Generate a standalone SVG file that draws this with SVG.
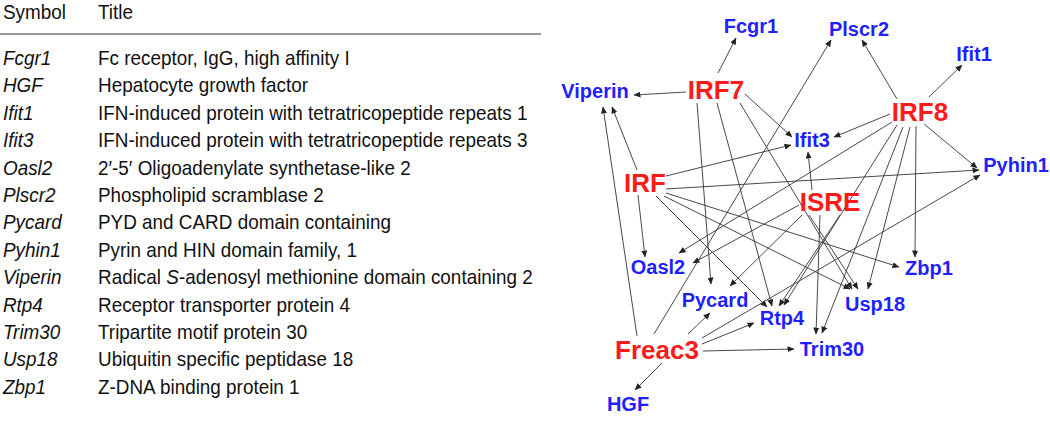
<svg xmlns="http://www.w3.org/2000/svg" width="1050" height="432" viewBox="0 0 1050 432">
<defs>
<marker id="ah" markerWidth="7" markerHeight="6" refX="6.5" refY="3" orient="auto" markerUnits="userSpaceOnUse">
<path d="M0,0 L7,3 L0,6 Z" fill="#222"/>
</marker>
<style>
.tb{font-family:"Liberation Sans",Arial,sans-serif;font-size:21px;fill:#111}
.sy{font-style:italic}
.b{font-family:"Liberation Sans",Arial,sans-serif;font-weight:bold;font-size:20px;fill:#1f1fff;text-anchor:middle}
.r{font-family:"Liberation Sans",Arial,sans-serif;font-weight:bold;font-size:26px;fill:#ff1a1a;text-anchor:middle}
.e{stroke:#333;stroke-width:0.9;fill:none;marker-end:url(#ah)}
</style>
</defs>
<rect width="1050" height="432" fill="#fff"/>
<g id="table">
<line x1="0" y1="34" x2="541" y2="34" stroke="#333" stroke-width="1.2"/>
<g transform="scale(0.9,1)">
<text class="tb" x="3.3" y="19">Symbol</text>
<text class="tb" x="108.9" y="19">Title</text>
<text class="tb sy" x="3.3" y="65">Fcgr1</text><text class="tb" x="108.9" y="65">Fc receptor, IgG, high affinity I</text>
<text class="tb sy" x="3.3" y="92.4">HGF</text><text class="tb" x="108.9" y="92.4">Hepatocyte growth factor</text>
<text class="tb sy" x="3.3" y="119.8">Ifit1</text><text class="tb" x="108.9" y="119.8">IFN-induced protein with tetratricopeptide repeats 1</text>
<text class="tb sy" x="3.3" y="147.2">Ifit3</text><text class="tb" x="108.9" y="147.2">IFN-induced protein with tetratricopeptide repeats 3</text>
<text class="tb sy" x="3.3" y="174.6">Oasl2</text><text class="tb" x="108.9" y="174.6">2′-5′ Oligoadenylate synthetase-like 2</text>
<text class="tb sy" x="3.3" y="202">Plscr2</text><text class="tb" x="108.9" y="202">Phospholipid scramblase 2</text>
<text class="tb sy" x="3.3" y="229.4">Pycard</text><text class="tb" x="108.9" y="229.4">PYD and CARD domain containing</text>
<text class="tb sy" x="3.3" y="256.8">Pyhin1</text><text class="tb" x="108.9" y="256.8">Pyrin and HIN domain family, 1</text>
<text class="tb sy" x="3.3" y="284.2">Viperin</text><text class="tb" x="108.9" y="284.2">Radical <tspan class="sy">S</tspan>-adenosyl methionine domain containing 2</text>
<text class="tb sy" x="3.3" y="311.6">Rtp4</text><text class="tb" x="108.9" y="311.6">Receptor transporter protein 4</text>
<text class="tb sy" x="3.3" y="339">Trim30</text><text class="tb" x="108.9" y="339">Tripartite motif protein 30</text>
<text class="tb sy" x="3.3" y="366.4">Usp18</text><text class="tb" x="108.9" y="366.4">Ubiquitin specific peptidase 18</text>
<text class="tb sy" x="3.3" y="393.8">Zbp1</text><text class="tb" x="108.9" y="393.8">Z-DNA binding protein 1</text>
</g>
</g>
<g id="connectors">
<path class="e" d="M686,92 L634,95"/>
<path class="e" d="M718,73 L736,38"/>
<path class="e" d="M745,94 L792,137"/>
<path class="e" d="M697,103 L711,284"/>
<path class="e" d="M717,103 L772,306"/>
<path class="e" d="M740,103 L852,289"/>
<path class="e" d="M897,99 L862,40"/>
<path class="e" d="M929,97 L962,65"/>
<path class="e" d="M890,114 L834,137"/>
<path class="e" d="M924,124 L977,168"/>
<path class="e" d="M916,126 L915,257"/>
<path class="e" d="M910,127 L868,289"/>
<path class="e" d="M903,127 L822,333"/>
<path class="e" d="M897,125 L784,305"/>
<path class="e" d="M892,122 L679,253"/>
<path class="e" d="M637,170 L612,107"/>
<path class="e" d="M666,176 L791,145"/>
<path class="e" d="M666,189 L979,170"/>
<path class="e" d="M666,193 L899,267"/>
<path class="e" d="M638,195 L645,257"/>
<path class="e" d="M656,196 L767,307"/>
<path class="e" d="M664,196 L850,289"/>
<path class="e" d="M812,190 L808,152"/>
<path class="e" d="M799,205 L693,263"/>
<path class="e" d="M802,215 L730,286"/>
<path class="e" d="M809,215 L858,289"/>
<path class="e" d="M820,215 L816,334"/>
<path class="e" d="M840,215 L779,306"/>
<path class="e" d="M637,336 L603,107"/>
<path class="e" d="M654,334 L831,40"/>
<path class="e" d="M688,334 L710,313"/>
<path class="e" d="M702,344 L754,323"/>
<path class="e" d="M703,351 L794,349"/>
<path class="e" d="M662,363 L635,390"/>
<path class="e" d="M702,338 L980,175"/>
</g>
<g id="n-Fcgr1"><text class="b" x="751" y="33">Fcgr1</text></g>
<g id="n-Plscr2"><text class="b" x="859" y="36">Plscr2</text></g>
<g id="n-Ifit1"><text class="b" x="974" y="61">Ifit1</text></g>
<g id="n-Viperin"><text class="b" x="595" y="98">Viperin</text></g>
<g id="n-IRF7"><text class="r" x="716" y="99">IRF7</text></g>
<g id="n-IRF8"><text class="r" x="920" y="121">IRF8</text></g>
<g id="n-Ifit3"><text class="b" x="812" y="147">Ifit3</text></g>
<g id="n-Pyhin1"><text class="b" x="1016" y="172">Pyhin1</text></g>
<g id="n-IRF"><text class="r" x="645" y="192">IRF</text></g>
<g id="n-ISRE"><text class="r" x="830" y="211">ISRE</text></g>
<g id="n-Oasl2"><text class="b" x="658" y="274">Oasl2</text></g>
<g id="n-Zbp1"><text class="b" x="929" y="275">Zbp1</text></g>
<g id="n-Pycard"><text class="b" x="715" y="307">Pycard</text></g>
<g id="n-Usp18"><text class="b" x="875" y="311">Usp18</text></g>
<g id="n-Rtp4"><text class="b" x="782" y="325">Rtp4</text></g>
<g id="n-Freac3"><text class="r" x="657" y="359">Freac3</text></g>
<g id="n-Trim30"><text class="b" x="832" y="356">Trim30</text></g>
<g id="n-HGF"><text class="b" x="628" y="411">HGF</text></g>
</svg>
